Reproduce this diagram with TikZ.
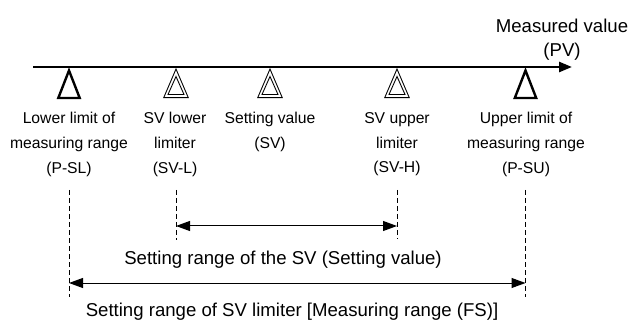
\documentclass[tikz,border=0pt]{standalone}
\usepackage{fontspec}
\setmainfont{Liberation Sans}
\usetikzlibrary{arrows.meta,positioning}

\begin{document}
\begin{tikzpicture}[
  x=1pt,
  y=-1pt,
  axis/.style={-{Triangle[length=13pt,width=10pt]}, line width=2.6pt},
  limit/.style={line width=2.4pt, line join=miter},
  setmark/.style={line width=0.9pt, line join=miter},
  guide/.style={line width=0.8pt, dash pattern=on 5pt off 3pt},
  span/.style={{Triangle[length=14pt,width=10pt]}-{Triangle[length=14pt,width=10pt]}, line width=1pt},
  label/.style={font=\fontsize{15.7}{24.7}\selectfont, align=center, inner sep=0pt},
  caption/.style={font=\fontsize{18.6}{24}\selectfont, align=center, inner sep=0pt}
]
  \useasboundingbox (0,0) rectangle (631,320);

  \coordinate (start) at (33,67);
  \coordinate (tip) at (572,67);
  \coordinate (psl) at (69,67);
  \coordinate (svl) at (176,67);
  \coordinate (sv) at (270,67);
  \coordinate (svh) at (397,67);
  \coordinate (psu) at (525.5,67);
  \coordinate (inner) at (0,226);
  \coordinate (outer) at (0,283);

  \draw[axis] (start) -- (tip);
  \node[caption, anchor=north] (pv) at (562,18.6) {Measured value\\(PV)};

  \foreach \p in {psl,psu}
    \draw[limit] (\p) ++(0,3.5) -- ++(-10.7,27.5) -- ++(21.4,0) -- cycle;
  \foreach \p in {svl,sv,svh} {
    \draw[setmark] (\p) ++(0,2) -- ++(-12.3,28.7) -- ++(24.6,0) -- cycle;
    \draw[setmark] (\p) ++(0,9.5) -- ++(-8,18) -- ++(16,0) -- cycle;
  }

  \node[label, anchor=north] (psl-txt) at (69,112.3) {Lower limit of\\measuring range\\(P-SL)};
  \node[label, anchor=north] (svl-txt) at (175,112.3) {SV lower\\limiter\\(SV-L)};
  \node[label, anchor=north] (sv-txt) at (270,112.3) {Setting value\\(SV)};
  \node[label, anchor=north] (svh-txt) at (397,112.3) {SV upper\\limiter\\(SV-H)};
  \node[label, anchor=north] (psu-txt) at (526,112.3) {Upper limit of\\measuring range\\(P-SU)};

  \foreach \p/\e in {psl/297, svl/240, svh/239, psu/297}
    \draw[guide] (\p) ++(0,123) -- (\p |- 0,\e);

  \draw[span] (svl |- inner) -- (svh |- inner);
  \draw[span] (psl |- outer) -- (psu |- outer);

  \node[caption, anchor=base] (sv-range) at (283,264) {Setting range of the SV (Setting value)};
  \node[caption, anchor=base] (fs-range) at (292,316) {Setting range of SV limiter [Measuring range (FS)]};
\end{tikzpicture}
\end{document}
